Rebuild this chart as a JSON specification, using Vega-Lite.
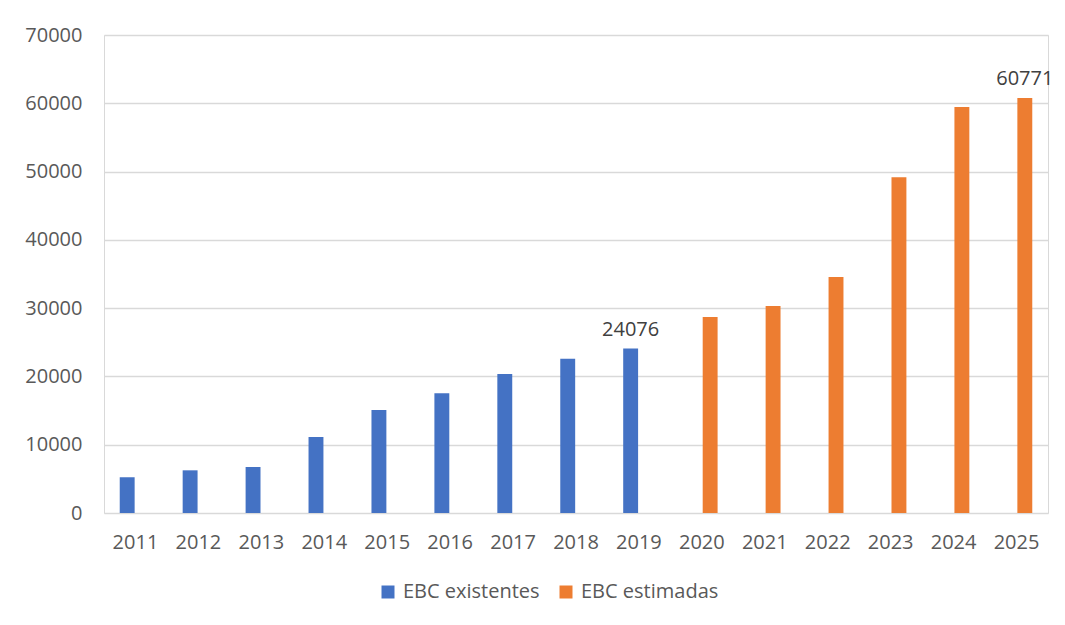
{
  "$schema": "https://vega.github.io/schema/vega-lite/v6.json",
  "width": 944,
  "height": 478,
  "autosize": {"type": "none"},
  "padding": {"left": 104, "top": 35, "right": 17, "bottom": 112},
  "background": "white",
  "config": {
    "view": {"stroke": "#d9d9d9", "strokeWidth": 1},
    "font": "Open Sans"
  },
  "data": {
    "values": [
      {"anio": "2011", "valor": 5230, "serie": "EBC existentes", "etiqueta": ""},
      {"anio": "2012", "valor": 6250, "serie": "EBC existentes", "etiqueta": ""},
      {"anio": "2013", "valor": 6740, "serie": "EBC existentes", "etiqueta": ""},
      {"anio": "2014", "valor": 11130, "serie": "EBC existentes", "etiqueta": ""},
      {"anio": "2015", "valor": 15100, "serie": "EBC existentes", "etiqueta": ""},
      {"anio": "2016", "valor": 17520, "serie": "EBC existentes", "etiqueta": ""},
      {"anio": "2017", "valor": 20350, "serie": "EBC existentes", "etiqueta": ""},
      {"anio": "2018", "valor": 22600, "serie": "EBC existentes", "etiqueta": ""},
      {"anio": "2019", "valor": 24076, "serie": "EBC existentes", "etiqueta": "24076"},
      {"anio": "2020", "valor": 28700, "serie": "EBC estimadas", "etiqueta": ""},
      {"anio": "2021", "valor": 30300, "serie": "EBC estimadas", "etiqueta": ""},
      {"anio": "2022", "valor": 34560, "serie": "EBC estimadas", "etiqueta": ""},
      {"anio": "2023", "valor": 49170, "serie": "EBC estimadas", "etiqueta": ""},
      {"anio": "2024", "valor": 59450, "serie": "EBC estimadas", "etiqueta": ""},
      {"anio": "2025", "valor": 60771, "serie": "EBC estimadas", "etiqueta": "60771"}
    ]
  },
  "encoding": {
    "x": {
      "field": "anio",
      "type": "nominal",
      "scale": {"paddingInner": 0.5, "paddingOuter": 0.25},
      "axis": {
        "title": null,
        "labelAngle": 0,
        "ticks": false,
        "domain": false,
        "grid": false,
        "labelPadding": 19,
        "labelFontSize": 20,
        "labelColor": "#595959"
      }
    },
    "xOffset": {
      "field": "serie",
      "type": "nominal",
      "scale": {"domain": ["EBC existentes", "EBC estimadas"], "paddingInner": 0.1}
    },
    "y": {
      "field": "valor",
      "type": "quantitative",
      "scale": {"domain": [0, 70000], "nice": false},
      "axis": {
        "title": null,
        "values": [0, 10000, 20000, 30000, 40000, 50000, 60000, 70000],
        "format": "d",
        "ticks": false,
        "domain": false,
        "labelPadding": 22,
        "labelFontSize": 20,
        "labelColor": "#595959",
        "gridColor": "#d9d9d9",
        "gridWidth": 1.3
      }
    }
  },
  "layer": [
    {
      "mark": {"type": "bar"},
      "encoding": {
        "color": {
          "field": "serie",
          "type": "nominal",
          "scale": {"domain": ["EBC existentes", "EBC estimadas"], "range": ["#4472C4", "#ED7D31"]},
          "legend": {
            "title": null,
            "orient": "none",
            "direction": "horizontal",
            "legendX": 274,
            "legendY": 547,
            "symbolType": "square",
            "symbolSize": 169,
            "symbolStrokeWidth": 0,
            "labelFontSize": 20,
            "labelColor": "#595959",
            "labelOffset": 5,
            "columnPadding": 16
          }
        }
      }
    },
    {
      "mark": {"type": "text", "baseline": "bottom", "dy": -9, "fontSize": 20, "color": "#404040"},
      "encoding": {
        "text": {"field": "etiqueta", "type": "nominal"}
      }
    }
  ]
}
